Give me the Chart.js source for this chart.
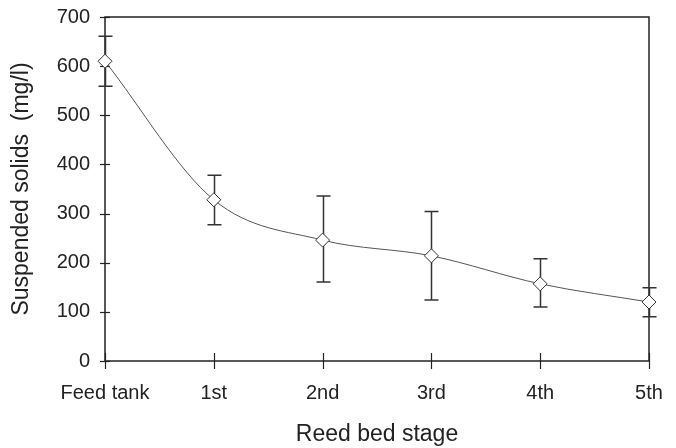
<!DOCTYPE html>
<html>
<head>
<meta charset="utf-8">
<script src="https://cdn.jsdelivr.net/npm/chart.js@4.4.0/dist/chart.umd.min.js"></script>
<style>
  html, body { margin: 0; padding: 0; background: #fff; }
  #wrap { width: 676px; height: 448px; }
</style>
</head>
<body>
<div id="wrap"><canvas id="myChart" width="676" height="448"></canvas></div>
<script>
// values
const stages = ['Feed tank', '1st', '2nd', '3rd', '4th', '5th'];
const meanSolids = [610, 328, 246, 214, 157, 120];
const upperBar = [661, 378, 336, 304, 208, 149];
const lowerBar = [559, 277, 161, 124, 110, 90];
const yTicks = [0, 100, 200, 300, 400, 500, 600, 700];

const axisColor = '#222';
const fontFamily = '"Liberation Sans", Arial, sans-serif';

// box round the plot, crossing tick marks and error bars
const extras = {
    id: 'extras',
    beforeDatasetsDraw(chart) {
        const ctx = chart.ctx;
        const x = chart.scales.x, y = chart.scales.y;
        const a = chart.chartArea;
        ctx.save();
        ctx.strokeStyle = axisColor;
        ctx.lineWidth = 1.5;
        ctx.strokeRect(a.left, a.top, a.right - a.left, a.bottom - a.top);

        // y ticks
        ctx.lineWidth = 1.2;
        yTicks.forEach((v) => {
            const py = Math.round(y.getPixelForValue(v)) + 0.5;
            ctx.beginPath();
            ctx.moveTo(a.left - 5, py);
            ctx.lineTo(a.left + 5, py);
            ctx.stroke();
        });
        // x ticks
        stages.forEach((s, i) => {
            const px = Math.round(x.getPixelForValue(i)) + 0.5;
            ctx.beginPath();
            ctx.moveTo(px, a.bottom - 8);
            ctx.lineTo(px, a.bottom + 8);
            ctx.stroke();
        });

        // error bars
        ctx.strokeStyle = '#333';
        ctx.lineWidth = 1.5;
        meanSolids.forEach((m, i) => {
            const px = Math.round(x.getPixelForValue(i)) + 0.5;
            const yt = y.getPixelForValue(upperBar[i]);
            const yb = y.getPixelForValue(lowerBar[i]);
            ctx.beginPath();
            ctx.moveTo(px, yt);
            ctx.lineTo(px, yb);
            ctx.moveTo(px - 7, yt);
            ctx.lineTo(px + 7, yt);
            ctx.moveTo(px - 7, yb);
            ctx.lineTo(px + 7, yb);
            ctx.stroke();
        });
        ctx.restore();
    }
};

const ctx = document.getElementById('myChart').getContext('2d');
const lineChart = new Chart(ctx, {
    type: 'line',
    data: {
        labels: stages,
        datasets: [
            {
                label: 'Suspended solids',
                data: meanSolids,
                borderColor: '#555',
                borderWidth: 1,
                cubicInterpolationMode: 'monotone',
                pointStyle: 'rectRot',
                pointRadius: 7,
                pointBackgroundColor: '#fff',
                pointBorderColor: '#333',
                pointBorderWidth: 1,
                fill: false,
            },
        ],
    },
    options: {
        responsive: false,
        animation: false,
        layout: { padding: { top: 17, right: 27, left: 0, bottom: 0 } },
        plugins: {
            legend: { display: false },
            tooltip: { enabled: false },
        },
        scales: {
            x: {
                type: 'category',
                offset: false,
                grid: { display: false, drawTicks: false },
                border: { display: false },
                ticks: {
                    padding: 20,
                    color: axisColor,
                    font: { family: fontFamily, size: 20 },
                    maxRotation: 0,
                    autoSkip: false,
                },
                title: {
                    display: true,
                    text: 'Reed bed stage',
                    color: axisColor,
                    font: { family: fontFamily, size: 23 },
                    padding: { top: 0, bottom: 0 },
                },
                afterFit(scale) {
                    scale.height = 87;
                    scale.paddingLeft = 0;
                    scale.paddingRight = 0;
                },
            },
            y: {
                min: 0,
                max: 700,
                grid: { display: false, drawTicks: false },
                border: { display: false },
                afterBuildTicks(scale) { scale.ticks = yTicks.map((v) => ({ value: v })); },
                ticks: {
                    padding: 15,
                    color: axisColor,
                    font: { family: fontFamily, size: 20 },
                },
                title: {
                    display: true,
                    text: 'Suspended solids  (mg/l)',
                    color: axisColor,
                    font: { family: fontFamily, size: 23 },
                    padding: { top: 8, bottom: 0 },
                },
                afterFit(scale) {
                    scale.width = 105;
                    scale.paddingTop = 0;
                    scale.paddingBottom = 0;
                },
            },
        },
    },
    plugins: [extras],
});
</script>
</body>
</html>
